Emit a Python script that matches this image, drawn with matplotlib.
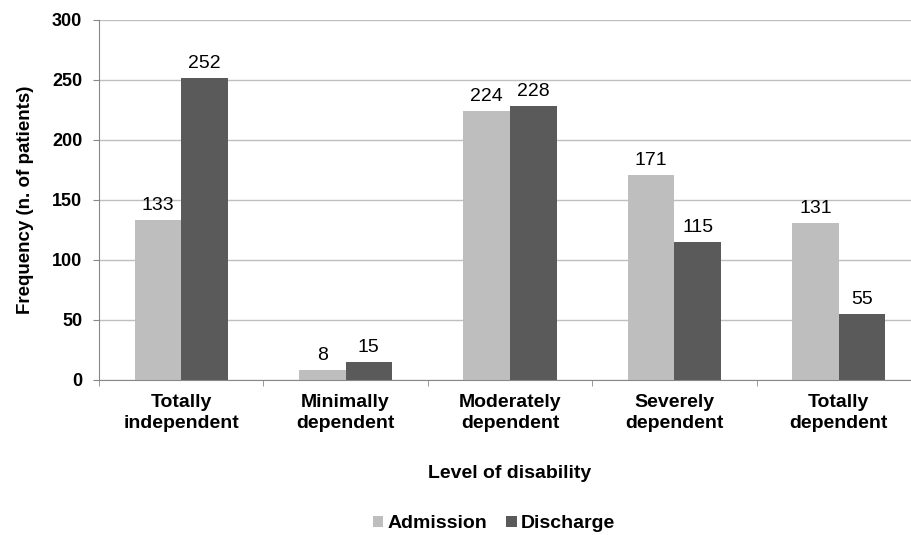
import numpy as np
import matplotlib

matplotlib.use("Agg")

import matplotlib.pyplot as plt

plt.rcParams["font.family"] = ["Liberation Sans", "DejaVu Sans"]

categories = ["Totally\nindependent", "Minimally\ndependent", "Moderately\ndependent",
              "Severely\ndependent", "Totally\ndependent"]
admission = [133, 8, 224, 171, 131]
discharge = [252, 15, 228, 115, 55]

light = "#BEBEBE"
dark = "#5A5A5A"

fig = plt.figure(figsize=(9.12, 5.35), dpi=100)
# plot area runs slightly past the right edge of the figure
ax = fig.add_axes([99 / 912, 1 - 380 / 535, 822 / 912, 360 / 535])

x = np.arange(len(categories))
w = 0.283

bars_a = ax.bar(x - w / 2, admission, w, color=light, label="Admission")
bars_d = ax.bar(x + w / 2, discharge, w, color=dark, label="Discharge")

for bars in (bars_a, bars_d):
    for b in bars:
        h = b.get_height()
        ax.text(b.get_x() + b.get_width() / 2, h + 5, f"{h:g}",
                ha="center", va="bottom", fontsize=14)

ax.set_xlim(-0.5, len(categories) - 0.5)
ax.set_ylim(0, 300)
ax.set_yticks(range(0, 301, 50))
ax.yaxis.grid(True, color="#BFBFBF", linewidth=1)
ax.set_axisbelow(True)

# category labels centred, tick marks only on the boundaries
ax.set_xticks(x)
ax.set_xticklabels(categories, fontsize=14, fontweight="bold", linespacing=1.3)
ax.tick_params(axis="x", which="major", length=0, pad=10)
ax.set_xticks(np.arange(-0.5, len(categories)), minor=True)
ax.tick_params(axis="x", which="minor", length=4.5, color="#888888")
ax.tick_params(axis="y", length=4, color="#888888", labelsize=13, pad=8)
for lbl in ax.get_yticklabels():
    lbl.set_fontweight("bold")

for side in ("top", "right"):
    ax.spines[side].set_visible(False)
for side in ("left", "bottom"):
    ax.spines[side].set_color("#888888")

ax.set_xlabel("Level of disability", fontsize=14, fontweight="bold", labelpad=24)
ax.set_ylabel("Frequency (n. of patients)", fontsize=13.5, fontweight="bold", labelpad=13)

fig.legend(loc="center", bbox_to_anchor=(494 / 912, 1 - 524 / 535), ncol=2, frameon=False,
           prop={"size": 14, "weight": "bold"}, handlelength=0.52, handleheight=0.52,
           handletextpad=0.2, columnspacing=1.0)

fig.savefig("out.png", dpi=100)
